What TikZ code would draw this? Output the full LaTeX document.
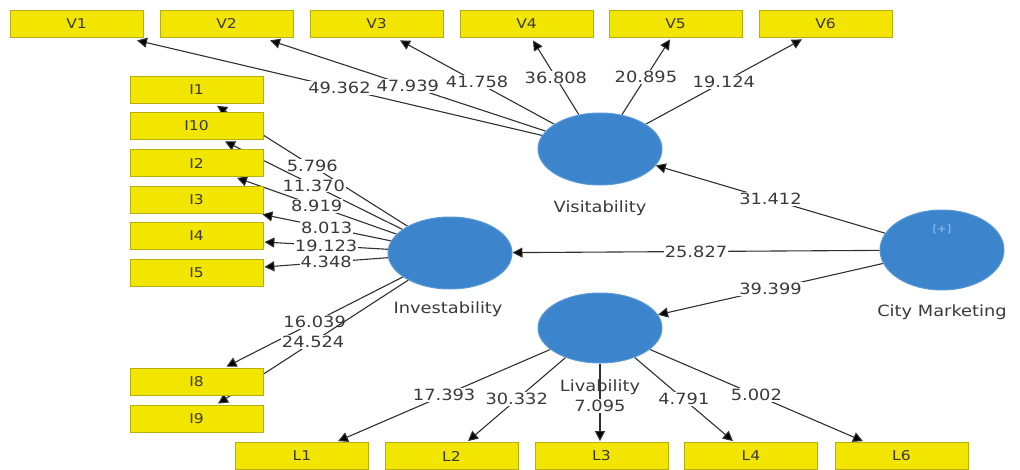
\documentclass[tikz,border=0pt]{standalone}
\usepackage{fontspec}
\setmainfont{DejaVu Sans}[FakeStretch=1.15]
\usetikzlibrary{shapes.geometric,arrows.meta,calc,backgrounds}
\definecolor{boxfill}{HTML}{F2E500}
\definecolor{boxedge}{HTML}{B8AE10}
\definecolor{lvfill}{HTML}{3C84CC}
\definecolor{lvedge}{HTML}{5A9AD8}
\definecolor{txt}{HTML}{3A3A3A}
\definecolor{edgecol}{HTML}{303030}
\tikzset{
  ind/.style={draw=boxedge, line width=0.8pt, fill=boxfill, minimum width=133pt, minimum height=27pt, inner sep=0pt, font=\fontsize{13.5}{14}\selectfont, text=txt},
  lv/.style={ellipse, fill=lvfill, draw=lvedge, line width=1pt, minimum width=124pt, minimum height=72pt, inner sep=0pt},
  lvname/.style={font=\fontsize{15.5}{16}\selectfont, text=txt},
  arr/.style={draw=edgecol, line width=1.1pt, -{Triangle[length=10pt,width=10pt,fill=black]}},
  wt/.style={fill=white, inner sep=1pt, font=\fontsize{15.5}{16}\selectfont, text=txt}
}
\begin{document}
\begin{tikzpicture}[x=1pt,y=-1pt]
\useasboundingbox (0,0) rectangle (1020,469);
% latent variables
\node[lv] (vis) at (600,149) {};
\node[lv] (inv) at (450,253) {};
\node[lv, minimum height=80pt] (cm) at (942,250) {};
\node[lv, minimum height=70pt] (liv) at (600,328) {};
\node[font=\fontsize{10}{10}\selectfont, text=lvedge!60!white] (plus) at (942,229) {[+]};
\node[lvname] (visl) at (600,208) {Visitability};
\node[lvname] (invl) at (448,309) {Investability};
\node[lvname] (cml) at (942,312) {City Marketing};
\node[lvname] (livl) at (600,387) {Livability};
% indicators V
\node[ind] (v1) at (76.5,23.5) {V1};
\node[ind] (v2) at (226.5,23.5) {V2};
\node[ind] (v3) at (376.5,23.5) {V3};
\node[ind] (v4) at (526.5,23.5) {V4};
\node[ind] (v5) at (675.5,23.5) {V5};
\node[ind] (v6) at (825.5,23.5) {V6};
% indicators I
\node[ind] (i1) at (196.5,90) {I1};
\node[ind] (i10) at (196.5,126) {I10};
\node[ind] (i2) at (196.5,163) {I2};
\node[ind] (i3) at (196.5,199.5) {I3};
\node[ind] (i4) at (196.5,236) {I4};
\node[ind] (i5) at (196.5,272.5) {I5};
\node[ind] (i8) at (196.5,381.5) {I8};
\node[ind] (i9) at (196.5,418.5) {I9};
% indicators L
\node[ind] (l1) at (302,456) {L1};
\node[ind] (l2) at (451.5,456) {L2};
\node[ind] (l3) at (601.5,456) {L3};
\node[ind] (l4) at (751,456) {L4};
\node[ind] (l6) at (901.5,456) {L6};
\begin{scope}[on background layer]
% Visitability
\draw[arr] (vis) -- node[wt]{49.362} ($(v1.south)+(60.5,3)$);
\draw[arr] (vis) -- node[wt]{47.939} ($(v2.south)+(43.5,3)$);
\draw[arr] (vis) -- node[wt]{41.758} ($(v3.south)+(23.5,3)$);
\draw[arr] (vis) -- node[wt]{36.808} ($(v4.south)+(6.5,3)$);
\draw[arr] (vis) -- node[wt]{20.895} ($(v5.south)+(-5.5,2)$);
\draw[arr] (vis) -- node[wt]{19.124} ($(v6.south)+(-23.5,2)$);
% Investability
\draw[arr] (inv) -- node[wt]{5.796} ($(i1.south)+(20.5,2)$);
\draw[arr] (inv) -- node[wt]{11.370} ($(i10.south)+(28.5,1.5)$);
\draw[arr] (inv) -- node[wt]{8.919} ($(i2.south)+(40.5,1)$);
\draw[arr] (inv) -- node[wt]{8.013} ($(i3.south east)+(-1,1)$);
\draw[arr] (inv) -- node[wt]{19.123} ($(i4.east)+(1,6)$);
\draw[arr] (inv) -- node[wt]{4.348} ($(i5.east)+(1,-5.5)$);
\draw[arr] (inv) -- node[wt]{16.039} ($(i8.north)+(30,-1)$);
\draw[arr] (inv) -- node[wt]{24.524} ($(i9.north)+(21.5,-1)$);
% City Marketing
\draw[arr] (cm) -- node[wt]{31.412} (vis);
\draw[arr] (cm) -- node[wt]{25.827} (inv);
\draw[arr] (cm) -- node[wt]{39.399} (liv);
% Livability
\draw[arr] (liv) -- node[wt]{17.393} ($(l1.north)+(36,-1)$);
\draw[arr] (liv) -- node[wt]{30.332} ($(l2.north)+(16.5,-1)$);
\draw[arr] (liv) -- node[wt, pos=0.55]{7.095} ($(l3.north)+(-1.5,-1)$);
\draw[arr] (liv) -- node[wt]{4.791} ($(l4.north)+(-18,-1)$);
\draw[arr] (liv) -- node[wt]{5.002} ($(l6.north)+(-38.5,-1)$);
\end{scope}
\end{tikzpicture}
\end{document}
